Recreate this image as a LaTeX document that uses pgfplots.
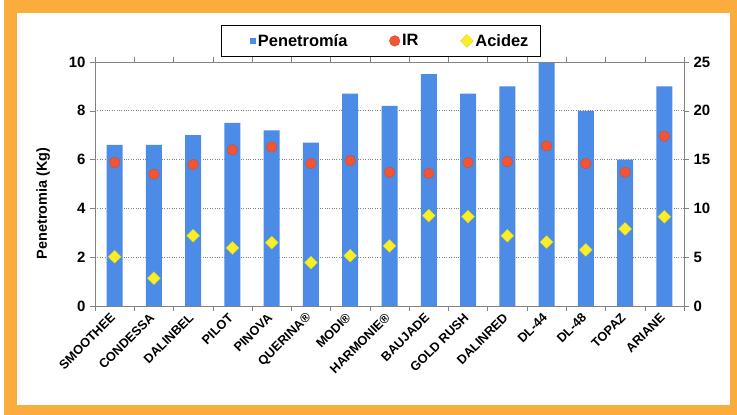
\documentclass[border=0pt]{standalone}
\usepackage{pgfplots}
\pgfplotsset{compat=1.18}
\usepackage{fontspec}
\setmainfont{Liberation Sans}
\definecolor{barblue}{RGB}{76,139,230}
\definecolor{irred}{RGB}{242,84,52}
\definecolor{acyellow}{RGB}{250,238,40}
\definecolor{frameor}{RGB}{250,172,60}
\definecolor{axgray}{RGB}{130,130,130}
\begin{document}
\begin{tikzpicture}
\useasboundingbox (0,0) rectangle (737bp,415bp);
\fill[frameor] (4bp,0) rectangle (737bp,415bp);
\fill[white] (17bp,10bp) rectangle (730bp,402bp);
\begin{axis}[
  at={(95bp,109bp)}, anchor=south west, scale only axis,
  width=589bp, height=244bp,
  xmin=-0.5, xmax=14.5, ymin=0, ymax=10,
  ytick={0,2,...,10},
  xtick={0,...,14},
  xticklabels={SMOOTHEE,CONDESSA,DALINBEL,PILOT,PINOVA,QUERINA\textregistered,MODI\textregistered,HARMONIE\textregistered,BAUJADE,GOLD RUSH,DALINRED,DL-44,DL-48,TOPAZ,ARIANE},
  minor xtick={-0.5,0.5,...,14.5},
  major x tick style={draw=none},
  tick align=outside,
  major tick length=5bp, minor tick length=5bp,
  every tick/.style={axgray},
  axis line style={axgray},
  ymajorgrids, major grid style={axgray, dotted, line width=0.8pt},
  axis y line*=left,
  /pgf/number format/assume math mode=true,
  yticklabel style={font=\bfseries\fontsize{15}{15}\selectfont, xshift=-1bp},
  xticklabel style={rotate=45, anchor=east, font=\bfseries\fontsize{12.8}{13}\selectfont, yshift=-2bp, xshift=-1bp},
  ylabel={Penetromia (Kg)},
  ylabel style={font=\bfseries\fontsize{14.5}{15}\selectfont, at={(axis description cs:-0.088,0.42)}, anchor=center},
]
\addplot[ybar, bar width=16bp, fill=barblue, draw=none] coordinates {
(0,6.6) (1,6.6) (2,7.0) (3,7.5) (4,7.2) (5,6.7) (6,8.7) (7,8.2) (8,9.5) (9,8.7) (10,9.0) (11,9.95) (12,8.0) (13,6.0) (14,9.0)};
\draw[axgray] (axis cs:-0.5,10) -- (axis cs:14.5,10);
\draw[axgray] (axis cs:-0.5,0) -- (axis cs:14.5,0);
\end{axis}
\begin{axis}[
  at={(95bp,109bp)}, anchor=south west, scale only axis,
  width=589bp, height=244bp,
  xmin=-0.5, xmax=14.5, ymin=0, ymax=25,
  ytick={0,5,...,25},
  axis x line=none,
  axis y line*=right,
  tick align=outside,
  major tick length=5bp,
  every tick/.style={axgray},
  axis line style={axgray},
  /pgf/number format/assume math mode=true,
  yticklabel style={font=\bfseries\fontsize{15}{15}\selectfont, xshift=1bp},
  legend columns=3,
  legend style={at={(axis description cs:0.485,1)}, anchor=south, yshift=5bp,
    draw=black, line width=0.6pt, font=\bfseries\fontsize{16.5}{16.5}\selectfont,
    inner xsep=10bp, inner ysep=7bp,
    /tikz/every even column/.append style={column sep=40bp}},
  legend cell align=left,
]
\addlegendimage{legend image code/.code={\path[draw=none,fill=none] (-22bp,0) -- (0,0); \fill[barblue,draw=none] (-3bp,-3bp) rectangle (3bp,3bp);}}
\addlegendentry{Penetromía}
\addplot[only marks, mark=*, mark size=5.3bp, irred, mark options={draw=irred!85!black, line width=0.3pt, fill=irred}] coordinates {
(0,14.7) (1,13.5) (2,14.5) (3,16.0) (4,16.3) (5,14.6) (6,14.9) (7,13.7) (8,13.6) (9,14.7) (10,14.8) (11,16.4) (12,14.6) (13,13.7) (14,17.4)};
\addlegendentry{IR}
\addplot[only marks, mark=square*, mark size=4.6bp, acyellow, mark options={rotate=45, draw=acyellow!85!black, line width=0.3pt, fill=acyellow}] coordinates {
(0,5.05) (1,2.85) (2,7.2) (3,5.95) (4,6.5) (5,4.45) (6,5.15) (7,6.15) (8,9.25) (9,9.15) (10,7.2) (11,6.55) (12,5.75) (13,7.9) (14,9.15)};
\addlegendentry{Acidez}
\end{axis}
\end{tikzpicture}
\end{document}
